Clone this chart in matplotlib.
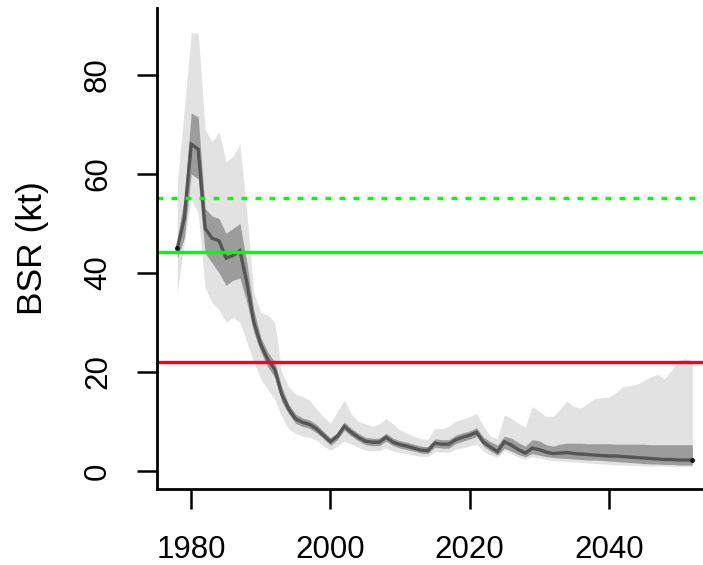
import numpy as np
import matplotlib
matplotlib.use("Agg")
import matplotlib.pyplot as plt

plt.rcParams['font.family'] = ['Liberation Sans', 'DejaVu Sans']

# Spawning stock (BSR) series, 1978-2052
years = np.arange(1978, 2053)

median = [45.0, 51.0, 66.0, 65.0, 49.0, 47.0, 46.5, 43.0, 43.5, 44.5,
          38.0, 30.0, 25.5, 22.5, 20.5, 15.5, 12.5, 10.5, 9.8, 9.4,
          8.5, 7.2, 5.9, 7.0, 9.0, 7.8, 6.8, 6.0, 5.8, 5.8,
          6.8, 5.8, 5.3, 5.0, 4.6, 4.2, 4.1, 5.6, 5.4, 5.4,
          6.3, 6.8, 7.2, 7.8, 5.8, 4.8, 3.9, 5.9, 5.2, 4.3,
          3.6, 4.6, 4.3, 3.8, 3.5, 3.6, 3.7, 3.5, 3.4, 3.3,
          3.2, 3.1, 3.0, 3.0, 2.9, 2.8, 2.7, 2.6, 2.5, 2.4,
          2.3, 2.3, 2.2, 2.2, 2.2]

# inner (dark) interval
dark_hi = [47.0, 55.0, 72.3, 71.5, 53.0, 51.5, 51.0, 48.0, 49.0, 50.0,
           42.0, 32.5, 27.0, 24.0, 22.0, 17.0, 13.5, 11.5, 10.7, 10.3,
           9.4, 8.0, 6.7, 7.8, 9.9, 8.6, 7.6, 6.8, 6.6, 6.6,
           7.6, 6.6, 6.1, 5.8, 5.4, 5.0, 4.9, 6.5, 6.3, 6.3,
           7.2, 7.7, 8.1, 8.7, 6.8, 5.9, 5.2, 7.0, 6.6, 5.7,
           5.0, 6.3, 6.1, 5.3, 5.0, 5.4, 5.6, 5.6, 5.6, 5.5,
           5.5, 5.5, 5.5, 5.4, 5.4, 5.4, 5.4, 5.4, 5.3, 5.3,
           5.3, 5.3, 5.3, 5.3, 5.3]
dark_lo = [43.0, 47.0, 60.0, 59.0, 44.0, 42.0, 40.0, 37.5, 38.5, 39.0,
           34.0, 28.0, 24.0, 21.0, 19.0, 14.0, 11.5, 9.6, 9.0, 8.6,
           7.7, 6.5, 5.2, 6.3, 8.2, 7.0, 6.1, 5.3, 5.1, 5.1,
           6.0, 5.1, 4.6, 4.3, 4.0, 3.6, 3.5, 4.8, 4.6, 4.6,
           5.5, 6.0, 6.4, 7.0, 5.0, 4.0, 3.2, 4.6, 4.0, 3.3,
           2.9, 3.5, 3.2, 2.9, 2.7, 2.6, 2.5, 2.4, 2.3, 2.2,
           2.2, 2.1, 2.0, 1.9, 1.8, 1.7, 1.6, 1.5, 1.4, 1.4,
           1.3, 1.3, 1.2, 1.2, 1.2]

# outer (light) interval
light_hi = [58.0, 73.0, 88.5, 88.5, 69.0, 66.5, 68.5, 62.5, 63.5, 66.0,
            52.0, 36.0, 32.0, 31.5, 30.0, 20.0, 17.0, 15.5, 15.0, 14.3,
            12.5, 11.0, 9.6, 12.0, 14.3, 11.5, 10.0, 9.5, 9.0, 9.5,
            10.6, 9.5, 8.2, 7.6, 7.0, 6.5, 6.4, 8.6, 8.5, 9.0,
            10.0, 10.5, 11.0, 11.6, 9.0, 7.0, 6.5, 11.3, 10.6, 9.6,
            8.9, 13.0, 12.0, 11.0, 11.0, 12.5, 14.1, 13.0, 12.7, 13.7,
            14.6, 14.8, 14.9, 15.8, 17.0, 17.2, 17.5, 18.2, 19.0, 19.5,
            18.6, 20.3, 22.3, 22.7, 22.2]
light_lo = [36.0, 46.0, 55.0, 52.0, 37.0, 34.0, 32.5, 30.0, 31.0, 30.0,
            26.0, 22.0, 18.5, 16.5, 14.5, 11.0, 8.5, 7.6, 7.0, 6.8,
            6.2, 5.0, 4.2, 5.0, 6.0, 5.4, 4.8, 4.2, 4.1, 4.1,
            4.6, 4.0, 3.7, 3.5, 3.2, 2.9, 2.9, 3.9, 3.8, 3.8,
            4.4, 4.7, 5.0, 5.4, 4.0, 3.2, 2.8, 4.1, 3.5, 2.8,
            2.4, 2.9, 2.6, 2.3, 2.1, 2.0, 1.9, 1.8, 1.7, 1.6,
            1.5, 1.4, 1.3, 1.2, 1.2, 1.1, 1.1, 1.0, 1.0, 1.0,
            1.0, 0.9, 0.9, 0.9, 0.9]

# reference points
bpa = 55.1      # dotted green
blim_hi = 44.3  # solid green
blim = 22.0     # red

x_ticks = [1980, 2000, 2020, 2040]
y_ticks = [0, 20, 40, 60, 80]

fig = plt.figure(figsize=(7.03, 5.65), dpi=100)
ax = fig.add_axes([0.2229, 0.1350, 0.7912, 0.8515])

ax.fill_between(years, light_lo, light_hi, color='#e2e2e2', lw=0)
ax.fill_between(years, dark_lo, dark_hi, color='#9c9c9c', lw=0)
ax.plot(years, median, color='#555555', lw=2.4, solid_joinstyle='miter')
ax.plot([years[0], years[-1]], [median[0], median[-1]], 'o', color='#111111', ms=2.5, ls='none')

ax.axhline(bpa, color='#00ff00', lw=2.4, ls=(0, (1.7, 2.5)))
ax.axhline(blim_hi, color='#00ff00', lw=2.4)
ax.axhline(blim, color='#ff0000', lw=2.4)

ax.set_xlim(1975.04, 2054.96)
ax.set_ylim(-3.6, 93.6)
ax.set_xticks(x_ticks)
ax.set_yticks(y_ticks)

for s in ['top', 'right']:
    ax.spines[s].set_visible(False)
for s in ['left', 'bottom']:
    ax.spines[s].set_linewidth(2.0)

ax.tick_params(axis='both', length=14.4, width=1.8, labelsize=22.5, direction='out')
ax.tick_params(axis='x', pad=19)
ax.tick_params(axis='y', pad=17)
for lab in ax.get_yticklabels():
    lab.set_rotation(90)
    lab.set_va('center')

fig.text(0.046, 0.561, 'BSR (kt)', rotation=90, ha='center', va='center', fontsize=25.5)

fig.savefig('out.png', dpi=100)
